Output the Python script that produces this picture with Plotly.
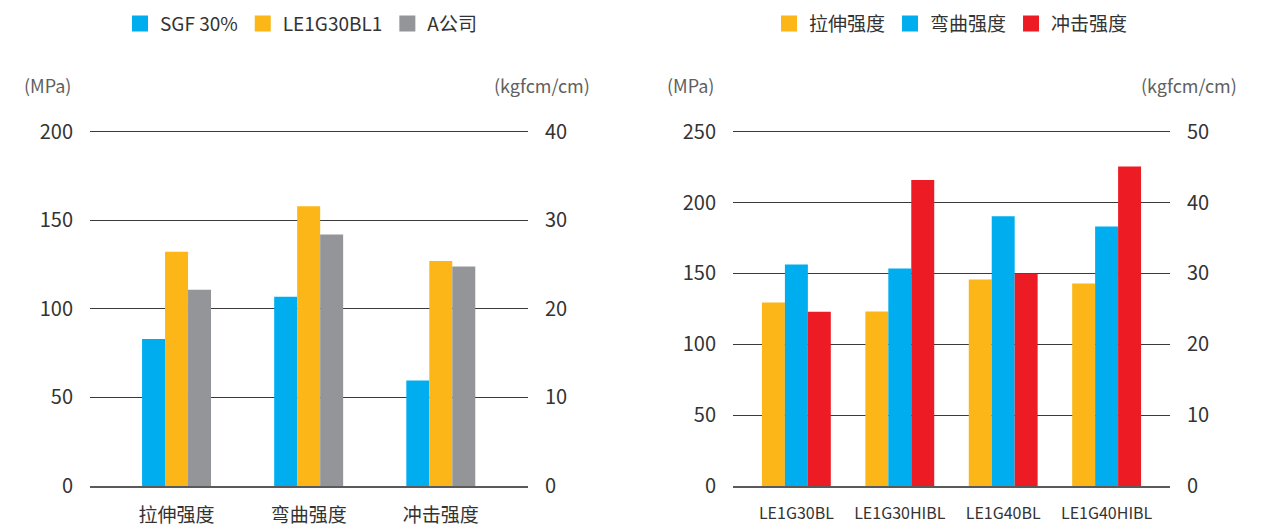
import plotly.graph_objects as go

# ---------------- data ----------------
left_categories = ["拉伸强度", "弯曲强度", "冲击强度"]
left_series = ["SGF 30%", "LE1G30BL1", "A公司"]
# tensile & flexural in MPa (left axis), impact in kgfcm/cm (right axis)
sgf_mpa = [83.0, 106.8]
sgf_impact = [11.9]
le1_mpa = [132.3, 157.9]
le1_impact = [25.4]
acomp_mpa = [110.8, 142.0]
acomp_impact = [24.8]

right_categories = ["LE1G30BL", "LE1G30HIBL", "LE1G40BL", "LE1G40HIBL"]
right_series = ["拉伸强度", "弯曲强度", "冲击强度"]
tensile_mpa = [129.5, 123.1, 145.8, 142.9]
flexural_mpa = [156.4, 153.5, 190.3, 183.2]
impact_kgf = [24.6, 43.2, 30.0, 45.1]

left_mpa_ticks = [0, 50, 100, 150, 200]
left_kgf_ticks = [0, 10, 20, 30, 40]
right_mpa_ticks = [0, 50, 100, 150, 200, 250]
right_kgf_ticks = [0, 10, 20, 30, 40, 50]

# ---------------- style ----------------
BLUE = "#00AEEF"
ORANGE = "#FCB617"
GRAY = "#949599"
RED = "#ED1C24"
FONT = "Noto Sans CJK SC"
TXT = "#333333"
UNIT = "#606060"
GRID = "#3a3a3a"

W_LEFT = 0.174
W_RIGHT = 0.222

# plot area: top gridline at 132px, zero at 486px; small headroom so the top gridline is drawn
HEAD = 1.005
PLOT_H = 354 * HEAD
TOP = 486 - PLOT_H


def py(px):
    return (486 - px) / PLOT_H


fig = go.Figure()

# left chart
left_colors = [BLUE, ORANGE, GRAY]
left_mpa = [sgf_mpa, le1_mpa, acomp_mpa]
left_imp = [sgf_impact, le1_impact, acomp_impact]
for i, name in enumerate(left_series):
    off = -1.5 * W_LEFT + i * W_LEFT
    fig.add_trace(go.Bar(x=left_categories[:2], y=left_mpa[i], name=name,
                         marker=dict(color=left_colors[i], line=dict(width=0)),
                         width=W_LEFT, offset=off, xaxis="x", yaxis="y",
                         showlegend=False))
    fig.add_trace(go.Bar(x=left_categories[2:], y=left_imp[i], name=name,
                         marker=dict(color=left_colors[i], line=dict(width=0)),
                         width=W_LEFT, offset=off, xaxis="x", yaxis="y2",
                         showlegend=False))
    fig.add_trace(go.Scatter(x=[None], y=[None], mode="markers", name=name,
                             marker=dict(symbol="square", size=16, color=left_colors[i]),
                             xaxis="x", yaxis="y", legend="legend"))

# right chart
right_colors = [ORANGE, BLUE, RED]
right_vals = [tensile_mpa, flexural_mpa, impact_kgf]
right_axes = ["y3", "y3", "y4"]
for i, name in enumerate(right_series):
    off = -1.5 * W_RIGHT + i * W_RIGHT
    fig.add_trace(go.Bar(x=right_categories, y=right_vals[i], name=name,
                         marker=dict(color=right_colors[i], line=dict(width=0)),
                         width=W_RIGHT, offset=off, xaxis="x2", yaxis=right_axes[i],
                         showlegend=False))
    fig.add_trace(go.Scatter(x=[None], y=[None], mode="markers", name=name,
                             marker=dict(symbol="square", size=16, color=right_colors[i]),
                             xaxis="x2", yaxis="y3", legend="legend2"))

xcommon = dict(type="category", showgrid=False, zeroline=False, ticks="",
               showline=True, linecolor="#5a5a5a", linewidth=2, layer="above traces",
               fixedrange=True)
ycommon = dict(showline=False, zeroline=False, ticks="", tickmode="array",
               tickfont=dict(family=FONT, size=20, color=TXT), ticklabelstandoff=16,
               fixedrange=True)

fig.update_layout(
    width=1275, height=530,
    margin=dict(l=0, r=0, t=TOP, b=44),
    paper_bgcolor="white", plot_bgcolor="white",
    barmode="overlay",
    font=dict(family=FONT, color=TXT),
    xaxis=dict(**xcommon, domain=[90 / 1275, 528 / 1275], range=[-0.655, 2.66],
               categoryorder="array", categoryarray=left_categories,
               tickfont=dict(family=FONT, size=19, color=TXT), ticklabelstandoff=11),
    xaxis2=dict(**xcommon, domain=[733 / 1275, 1170 / 1275], range=[-0.613, 3.613],
                categoryorder="array", categoryarray=right_categories,
                tickfont=dict(family=FONT, size=16, color=TXT), ticklabelstandoff=12),
    yaxis=dict(**ycommon, anchor="x", range=[0, 200 * HEAD], tickvals=left_mpa_ticks,
               showgrid=True, gridcolor=GRID, gridwidth=1),
    yaxis2=dict(**ycommon, anchor="x", overlaying="y", side="right", range=[0, 40 * HEAD],
                tickvals=left_kgf_ticks, showgrid=False),
    yaxis3=dict(**ycommon, anchor="x2", range=[0, 250 * HEAD], tickvals=right_mpa_ticks,
                showgrid=True, gridcolor=GRID, gridwidth=1),
    yaxis4=dict(**ycommon, anchor="x2", overlaying="y3", side="right", range=[0, 50 * HEAD],
                tickvals=right_kgf_ticks, showgrid=False),
    legend=dict(orientation="h", x=120 / 1275, xanchor="left", y=py(24), yanchor="middle",
                font=dict(family=FONT, size=19, color=TXT), itemwidth=30,
                bgcolor="rgba(0,0,0,0)"),
    legend2=dict(orientation="h", x=769 / 1275, xanchor="left", y=py(24), yanchor="middle",
                 font=dict(family=FONT, size=19, color=TXT), itemwidth=30,
                 bgcolor="rgba(0,0,0,0)"),
)

units = [("(MPa)", 73), ("(kgfcm/cm)", 592), ("(MPa)", 716), ("(kgfcm/cm)", 1239)]
for txt, xr in units:
    fig.add_annotation(text=txt, xref="paper", yref="paper", x=xr / 1275, y=py(85),
                       xanchor="right", yanchor="middle", showarrow=False,
                       font=dict(family=FONT, size=18, color=UNIT))

fig.write_html("out.html")
